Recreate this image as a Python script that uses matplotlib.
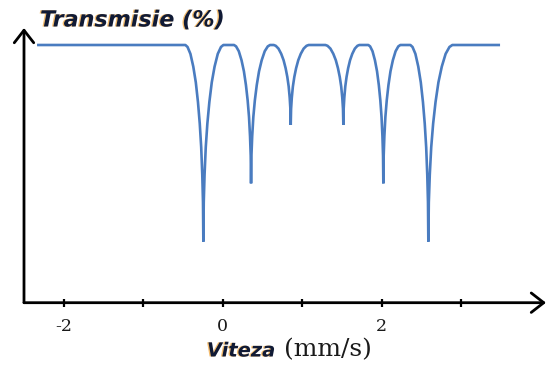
import numpy as np
import matplotlib
matplotlib.use("Agg")
import matplotlib.pyplot as plt
import matplotlib.patheffects as pe

# ---- data ----
# dip centres (mm/s), dip transmission minima (%), half-widths left/right (mm/s)
dip_centres = [-0.244, 0.356, 0.855, 1.517, 2.020, 2.586]
dip_minima = [23.7, 46.3, 69.0, 69.0, 46.3, 23.7]
dip_half_left = [0.226, 0.214, 0.214, 0.226, 0.189, 0.226]
dip_half_right = [0.252, 0.239, 0.226, 0.201, 0.214, 0.302]
baseline_level = 100.0
spectrum_start = -2.336
spectrum_end = 3.488
# traced normalised line profile of one side of a dip (fraction of half-width, fraction of depth)
profile_frac = [0.0, 0.02, 0.06, 0.12, 0.20, 0.30, 0.42, 0.56, 0.72, 0.88, 1.0]
profile_drop = [1.0, 0.80, 0.66, 0.52, 0.40, 0.29, 0.19, 0.11, 0.045, 0.01, 0.0]

tick_values = [-2, -1, 0, 1, 2, 3]
tick_labels = ["-2", "", "0", "", "2", ""]

title_text = "Transmisie (%)"
xlabel_bold = "Viteza"
xlabel_unit = "(mm/s)"

# ---- build the traced curve ----
xs = [spectrum_start]
ys = [baseline_level]
for c, m, wl, wr in zip(dip_centres, dip_minima, dip_half_left, dip_half_right):
    depth = baseline_level - m
    for f, d in zip(profile_frac[::-1], profile_drop[::-1]):
        xs.append(c - f * wl)
        ys.append(baseline_level - d * depth)
    for f, d in zip(profile_frac[1:], profile_drop[1:]):
        xs.append(c + f * wr)
        ys.append(baseline_level - d * depth)
xs.append(spectrum_end)
ys.append(baseline_level)

# ---- figure ----
W, H = 548, 369
fig = plt.figure(figsize=(W / 100, H / 100), dpi=100)
ax_left, ax_bottom_px, ax_right, ax_top_px = 24, 302.7, 546, 28
ax = fig.add_axes([ax_left / W, (H - ax_bottom_px) / H,
                   (ax_right - ax_left) / W, (ax_bottom_px - ax_top_px) / H])
px_per_unit = 79.5
ax.set_xlim(-2.5, -2.5 + (ax_right - ax_left) / px_per_unit)
ax.set_ylim(0, (ax_bottom_px - ax_top_px) / 2.577)

ax.plot(xs, ys, color="#4a7cc0", lw=1.9, solid_joinstyle="bevel",
        solid_capstyle="butt", clip_on=False)

for s in ax.spines.values():
    s.set_visible(False)
ax.set_yticks([])
ax.set_xticks(tick_values)
ax.set_xticklabels(tick_labels, fontfamily="DejaVu Serif", fontsize=12.5,
                   color="#1a1a1a")
ax.tick_params(axis="x", direction="inout", length=6, width=1.6,
               color="black", pad=8)

arrow = dict(arrowstyle="->,head_length=0.45,head_width=0.35", lw=2.0,
             color="black", shrinkA=0, shrinkB=0, mutation_scale=20)
ax.annotate("", xy=(0, 1), xytext=(0, 0), xycoords="axes fraction",
            textcoords="axes fraction", arrowprops=arrow, annotation_clip=False)
ax.annotate("", xy=(1, 0), xytext=(0, 0), xycoords="axes fraction",
            textcoords="axes fraction", arrowprops=arrow, annotation_clip=False)

fx = [pe.withSimplePatchShadow(offset=(-1, 0), shadow_rgbFace="#f0a030", alpha=0.7)]
fig.text(40 / W, (H - 26.5) / H, title_text, fontfamily="DejaVu Sans",
         fontweight="bold", fontstyle="italic", fontsize=16,
         color="#101a35", va="baseline", ha="left", path_effects=fx)
fig.text(207 / W, (H - 356.5) / H, xlabel_bold, fontfamily="DejaVu Sans",
         fontweight="bold", fontstyle="italic", fontsize=14,
         color="#101a35", va="baseline", ha="left", path_effects=fx)
fig.text(284 / W, (H - 356.5) / H, xlabel_unit, fontfamily="DejaVu Serif",
         fontsize=18, color="#1a1a1a", va="baseline", ha="left")

fig.savefig("out.png", dpi=100)
